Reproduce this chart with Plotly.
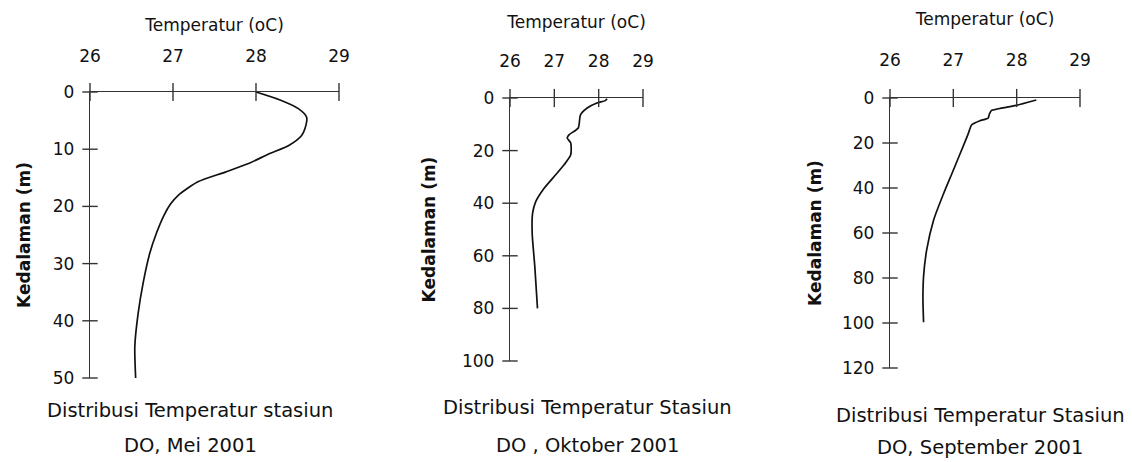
import plotly.graph_objects as go

# ---------------- data ----------------
# Panel 1: DO, Mei 2001
may_temp = [28.00, 28.29, 28.51, 28.61, 28.59, 28.55, 28.40, 28.16, 27.91, 27.63,
            27.30, 27.06, 26.97, 26.89, 26.80, 26.72, 26.64, 26.58, 26.54, 26.55]
may_depth = [0.0, 1.4, 2.9, 4.4, 6.4, 7.6, 9.3, 10.8, 12.5, 14.0,
             15.7, 18.1, 19.6, 21.6, 24.7, 28.2, 33.4, 38.7, 44.5, 50.0]

# Panel 2: DO, Oktober 2001
oct_temp = [28.19, 28.15, 27.96, 27.74, 27.59, 27.54, 27.33, 27.29, 27.37, 27.37,
            27.22, 27.03, 26.77, 26.58, 26.51, 26.50, 26.56, 26.62]
oct_depth = [0.3, 1.0, 1.9, 3.8, 6.4, 11.4, 14.0, 15.2, 17.1, 21.6,
             25.4, 29.2, 34.3, 39.4, 43.8, 51.4, 64.2, 80.0]

# Panel 3: DO, September 2001
sep_temp = [28.31, 27.99, 27.60, 27.57, 27.55, 27.42, 27.29, 27.23, 27.10, 26.97,
            26.85, 26.69, 26.58, 26.53, 26.52, 26.53]
sep_depth = [0.9, 3.3, 5.6, 7.1, 8.9, 10.1, 11.9, 16.3, 25.2, 34.1,
             42.2, 54.1, 67.4, 79.3, 89.6, 99.7]

temp_ticks = [26, 27, 28, 29]
may_depth_ticks = [0, 10, 20, 30, 40, 50]
oct_depth_ticks = [0, 20, 40, 60, 80, 100]
sep_depth_ticks = [0, 20, 40, 60, 80, 100, 120]

x_title = "Temperatur (oC)"
y_title = "Kedalaman (m)"
captions = [
    ("Distribusi Temperatur stasiun", "DO, Mei 2001"),
    ("Distribusi Temperatur Stasiun", "DO , Oktober 2001"),
    ("Distribusi Temperatur Stasiun", "DO, September 2001"),
]

# ---------------- layout geometry (pixels) ----------------
W, H = 1132, 462
FONT = "DejaVu Sans"
INK = "#111111"
AX = "#333333"

panels = [
    dict(temp=may_temp, depth=may_depth, dticks=may_depth_ticks,
         x0=90, x1=339, y0=92, y1=378, smooth=0.7,
         xstand=10, ystand=17, xlabstand=22,
         cap_x=190, cap_y=(410, 445)),
    dict(temp=oct_temp, depth=oct_depth, dticks=oct_depth_ticks,
         x0=510, x1=643, y0=98, y1=361, smooth=0.6,
         xstand=18, ystand=21, xlabstand=23,
         cap_x=587, cap_y=(407, 445)),
    dict(temp=sep_temp, depth=sep_depth, dticks=sep_depth_ticks,
         x0=890, x1=1080, y0=98, y1=368, smooth=0.5,
         xstand=20, ystand=15, xlabstand=24,
         cap_x=980, cap_y=(415, 447)),
]

fig = go.Figure()
annotations = []

for i, p in enumerate(panels, start=1):
    xa = "x" if i == 1 else f"x{i}"
    ya = "y" if i == 1 else f"y{i}"
    dmax = p["dticks"][-1]

    # profile curve
    fig.add_trace(go.Scatter(x=p["temp"], y=p["depth"], mode="lines",
                             line=dict(color=INK, width=1.7, shape="spline",
                                       smoothing=p["smooth"]),
                             xaxis=xa, yaxis=ya, showlegend=False,
                             cliponaxis=False, hoverinfo="skip"))
    # crossing ticks on temperature axis (at depth 0)
    fig.add_trace(go.Scatter(x=temp_ticks, y=[0] * len(temp_ticks), mode="markers",
                             marker=dict(symbol="line-ns", size=13,
                                         line=dict(color=AX, width=1.4)),
                             xaxis=xa, yaxis=ya, showlegend=False,
                             cliponaxis=False, hoverinfo="skip"))
    # crossing ticks on depth axis (at temperature 26)
    fig.add_trace(go.Scatter(x=[temp_ticks[0]] * len(p["dticks"]), y=p["dticks"],
                             mode="markers",
                             marker=dict(symbol="line-ew", size=11,
                                         line=dict(color=AX, width=1.4)),
                             xaxis=xa, yaxis=ya, showlegend=False,
                             cliponaxis=False, hoverinfo="skip"))

    xdom = [p["x0"] / W, p["x1"] / W]
    ydom = [1 - p["y1"] / H, 1 - p["y0"] / H]
    fig.layout[f"xaxis{'' if i == 1 else i}"] = dict(
        domain=xdom, range=[temp_ticks[0], temp_ticks[-1]], side="top",
        anchor=ya, tickvals=temp_ticks, ticks="", showgrid=False, zeroline=False,
        showline=True, linecolor=AX, linewidth=1.4, automargin=False,
        tickfont=dict(family=FONT, size=17, color=INK),
        ticklabelstandoff=p["xlabstand"],
        title=dict(text=x_title, standoff=p["xstand"],
                   font=dict(family=FONT, size=17, color=INK)),
    )
    fig.layout[f"yaxis{'' if i == 1 else i}"] = dict(
        domain=ydom, range=[dmax, 0], anchor=xa,
        tickvals=p["dticks"], ticks="", showgrid=False, zeroline=False,
        showline=True, linecolor=AX, linewidth=1.4, automargin=False,
        tickfont=dict(family=FONT, size=17, color=INK),
        ticklabelstandoff=11,
        title=dict(text=y_title, standoff=p["ystand"],
                   font=dict(family=FONT, size=17, color=INK, weight="bold")),
    )

    for line, yy in zip(captions[i - 1], p["cap_y"]):
        annotations.append(dict(text=line, x=p["cap_x"] / W, y=1 - yy / H,
                                xref="paper", yref="paper", xanchor="center",
                                yanchor="middle", showarrow=False,
                                font=dict(family=FONT, size=19.5, color=INK)))

fig.update_layout(width=W, height=H, margin=dict(l=0, r=0, t=0, b=0, pad=0,
                                                 autoexpand=False),
                  paper_bgcolor="white", plot_bgcolor="white",
                  annotations=annotations, showlegend=False)

fig.write_html("out.html", config={"displayModeBar": False})
